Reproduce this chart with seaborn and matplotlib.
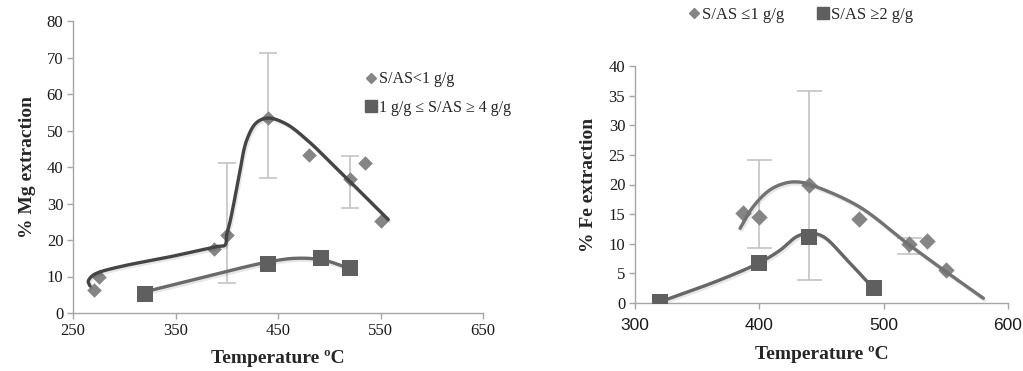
import numpy as np
import pandas as pd
import matplotlib
matplotlib.use("Agg")
import matplotlib.pyplot as plt
import matplotlib.patheffects as pe
from matplotlib.lines import Line2D
import seaborn as sns

# ---------------- data ----------------
# Left panel: Mg extraction
mg_low_T = [270, 275, 388, 400, 440, 480, 520, 535, 550]
mg_low_val = [6.2, 9.8, 17.5, 21.4, 53.5, 43.3, 36.8, 41.0, 25.3]
mg_high_T = [320, 440, 492, 520]
mg_high_val = [5.2, 13.3, 15.2, 12.2]
mg_err_T = [400, 440, 520]
mg_err_mid = [21.4, 53.5, 36.8]
mg_err_lo = [8.3, 37.1, 28.8]
mg_err_hi = [41.2, 71.1, 43.0]
# trend curves (traced anchor points)
mg_curve1_T = [266.6, 264.9, 267.3, 273.1, 295.9, 344.6, 390.2, 398.3, 400.0, 403.2,
               411.3, 419.5, 429.2, 440.5, 458.0, 480.0, 505.0, 530.0, 557.6]
mg_curve1_val = [7.4, 8.6, 9.8, 10.9, 12.7, 15.4, 18.2, 18.6, 21.5, 25.0,
                 36.4, 47.4, 52.2, 53.4, 51.8, 47.0, 40.2, 33.3, 25.6]
mg_curve2_T = [320, 380, 440.5, 468, 494, 520]
mg_curve2_val = [5.8, 10.0, 14.0, 15.0, 14.5, 12.2]

# Right panel: Fe extraction
fe_low_T = [387, 400, 440, 480, 520, 535, 550]
fe_low_val = [15.2, 14.5, 20.0, 14.1, 9.9, 10.5, 5.5]
fe_high_T = [320, 400, 440, 492]
fe_high_val = [0.2, 6.8, 11.2, 2.6]
fe_err_T = [400, 440, 520]
fe_err_mid = [14.5, 20.0, 9.9]
fe_err_lo = [9.2, 3.9, 8.2]
fe_err_hi = [24.1, 35.8, 10.9]
fe_curve1_T = [384.5, 395.2, 408.6, 422.0, 432.7, 443.4, 480.0, 520.0, 550.0, 580.2]
fe_curve1_val = [12.6, 16.3, 19.1, 20.3, 20.4, 19.8, 16.3, 9.9, 5.3, 0.8]
fe_curve2_T = [320.1, 368.4, 400.0, 416.6, 430.0, 440.2, 451.5, 470.3, 493.0]
fe_curve2_val = [0.2, 3.9, 6.8, 8.9, 11.2, 11.8, 11.2, 7.3, 2.2]

mg_xticks = [250, 350, 450, 550, 650]
mg_yticks = [0, 10, 20, 30, 40, 50, 60, 70, 80]
fe_xticks = [300, 400, 500, 600]
fe_yticks = [0, 5, 10, 15, 20, 25, 30, 35, 40]

# ---------------- helpers ----------------
def catmull_rom(xs, ys, sx, sy, n=30):
    P = np.column_stack([np.asarray(xs, float) * sx, np.asarray(ys, float) * sy])
    P = np.vstack([2 * P[0] - P[1], P, 2 * P[-1] - P[-2]])
    out = []
    for i in range(1, len(P) - 2):
        p0, p1, p2, p3 = P[i - 1], P[i], P[i + 1], P[i + 2]
        def tj(ti, a, b):
            return ti + max(np.linalg.norm(b - a), 1e-6) ** 0.5
        t0 = 0.0
        t1 = tj(t0, p0, p1)
        t2 = tj(t1, p1, p2)
        t3 = tj(t2, p2, p3)
        t = np.linspace(t1, t2, n)[:, None]
        A1 = (t1 - t) / (t1 - t0) * p0 + (t - t0) / (t1 - t0) * p1
        A2 = (t2 - t) / (t2 - t1) * p1 + (t - t1) / (t2 - t1) * p2
        A3 = (t3 - t) / (t3 - t2) * p2 + (t - t2) / (t3 - t2) * p3
        B1 = (t2 - t) / (t2 - t0) * A1 + (t - t0) / (t2 - t0) * A2
        B2 = (t3 - t) / (t3 - t1) * A2 + (t - t1) / (t3 - t1) * A3
        C = (t2 - t) / (t2 - t1) * B1 + (t - t1) / (t2 - t1) * B2
        out.append(C if i == 1 else C[1:])
    C = np.vstack(out)
    return C[:, 0] / sx, C[:, 1] / sy


sns.set_theme(style="white")
plt.rcParams["font.family"] = ["Liberation Serif", "DejaVu Serif"]

fig = plt.figure(figsize=(10.23, 3.71), dpi=100)
axL = fig.add_axes([73 / 1023, 1 - 313 / 371, 410 / 1023, 292 / 371])
axR = fig.add_axes([635 / 1023, 1 - 303 / 371, 373 / 1023, 237 / 371])

shadow = [pe.SimpleLineShadow(offset=(1.0, -1.5), shadow_color="k", alpha=0.10, rho=1.0), pe.Normal()]
err_color = "#c4c4c4"
diam_color = "#858585"
sq_color = "#5f5f5f"
axis_color = "#a6a6a6"


def style_axes(ax, xlim, ylim, xticks, yticks, tickfont):
    ax.set_xlim(*xlim)
    ax.set_ylim(*ylim)
    ax.set_xticks(xticks)
    ax.set_yticks(yticks)
    for s in ["top", "right"]:
        ax.spines[s].set_visible(False)
    for s in ["left", "bottom"]:
        ax.spines[s].set_color(axis_color)
        ax.spines[s].set_linewidth(1.0)
    ax.tick_params(axis="both", which="major", direction="out", length=4, width=1,
                   color=axis_color, labelsize=12, labelcolor="#1a1a1a", pad=3, bottom=True, left=True)
    for lab in ax.get_xticklabels() + ax.get_yticklabels():
        lab.set_fontfamily(tickfont)
    ax.set_facecolor("white")
    ax.grid(False)


# ---------- left panel ----------
ax = axL
ax.errorbar(mg_err_T, mg_err_mid,
            yerr=[np.array(mg_err_mid) - np.array(mg_err_lo), np.array(mg_err_hi) - np.array(mg_err_mid)],
            fmt="none", ecolor=err_color, elinewidth=1.2, capsize=6.5, capthick=1.2, zorder=1)
cx, cy = catmull_rom(mg_curve2_T, mg_curve2_val, 1.025, 3.65)
sns.lineplot(x=cx, y=cy, sort=False, estimator=None, color="#6a6a6a", linewidth=2.4,
             ax=ax, path_effects=shadow, zorder=3)
sns.scatterplot(x=mg_high_T, y=mg_high_val, marker="s", s=120, color=sq_color,
                edgecolor=sq_color, linewidth=0, ax=ax, zorder=4)
sns.scatterplot(x=mg_low_T, y=mg_low_val, marker="D", s=55, color=diam_color,
                edgecolor=diam_color, linewidth=0, ax=ax, zorder=4)
cx, cy = catmull_rom(mg_curve1_T, mg_curve1_val, 1.025, 3.65)
sns.lineplot(x=cx, y=cy, sort=False, estimator=None, color="#454545", linewidth=2.4,
             ax=ax, path_effects=shadow, zorder=5)
style_axes(ax, (250, 650), (0, 80), mg_xticks, mg_yticks, "Liberation Serif")
ax.set_xlabel("Temperature ºC", fontsize=14, fontweight="bold", labelpad=8)
ax.set_ylabel("% Mg extraction", fontsize=14, fontweight="bold", labelpad=8)

hL = [Line2D([], [], linestyle="none", marker="D", markersize=5.5, color=diam_color),
      Line2D([], [], linestyle="none", marker="s", markersize=9, color=sq_color)]
ax.legend(hL, ["S/AS<1 g/g", "1 g/g ≤ S/AS ≥ 4 g/g"], loc="upper left",
          bbox_to_anchor=(0.700, 0.85), frameon=False, fontsize=11.5,
          handlelength=0.6, handletextpad=0.2, labelspacing=0.8, borderaxespad=0)

# ---------- right panel ----------
ax = axR
ax.errorbar(fe_err_T, fe_err_mid,
            yerr=[np.array(fe_err_mid) - np.array(fe_err_lo), np.array(fe_err_hi) - np.array(fe_err_mid)],
            fmt="none", ecolor=err_color, elinewidth=1.2, capsize=9, capthick=1.2, zorder=1)
sns.scatterplot(x=fe_low_T, y=fe_low_val, marker="D", s=70, color=diam_color,
                edgecolor=diam_color, linewidth=0, ax=ax, zorder=2)
cx, cy = catmull_rom(fe_curve1_T, fe_curve1_val, 1.243, 5.925)
sns.lineplot(x=cx, y=cy, sort=False, estimator=None, color="#727272", linewidth=2.4,
             ax=ax, path_effects=shadow, zorder=3)
cx, cy = catmull_rom(fe_curve2_T, fe_curve2_val, 1.243, 5.925)
sns.lineplot(x=cx, y=cy, sort=False, estimator=None, color="#666666", linewidth=2.4,
             ax=ax, path_effects=shadow, zorder=3)
sns.scatterplot(x=fe_high_T, y=fe_high_val, marker="s", s=140, color=sq_color,
                edgecolor=sq_color, linewidth=0, ax=ax, zorder=4)
style_axes(ax, (300, 600), (0, 40), fe_xticks, fe_yticks, "Liberation Sans")
ax.tick_params(axis="x", pad=7, labelsize=12.5)
for lab in ax.get_yticklabels():
    lab.set_fontfamily("Liberation Serif")
ax.set_xlabel("Temperature ºC", fontsize=14, fontweight="bold", labelpad=9)
ax.set_ylabel("% Fe extraction", fontsize=14, fontweight="bold", labelpad=8)

hR = [Line2D([], [], linestyle="none", marker="D", markersize=5.5, color=diam_color),
      Line2D([], [], linestyle="none", marker="s", markersize=9, color=sq_color)]
fig.legend(hR, ["S/AS ≤1 g/g", "S/AS ≥2 g/g"], loc="center",
           bbox_to_anchor=(801 / 1023, 1 - 15 / 371), ncol=2, frameon=False, fontsize=12,
           handlelength=0.6, handletextpad=0.2, columnspacing=2.0, borderaxespad=0)

fig.savefig("out.png", dpi=100, facecolor="white")
